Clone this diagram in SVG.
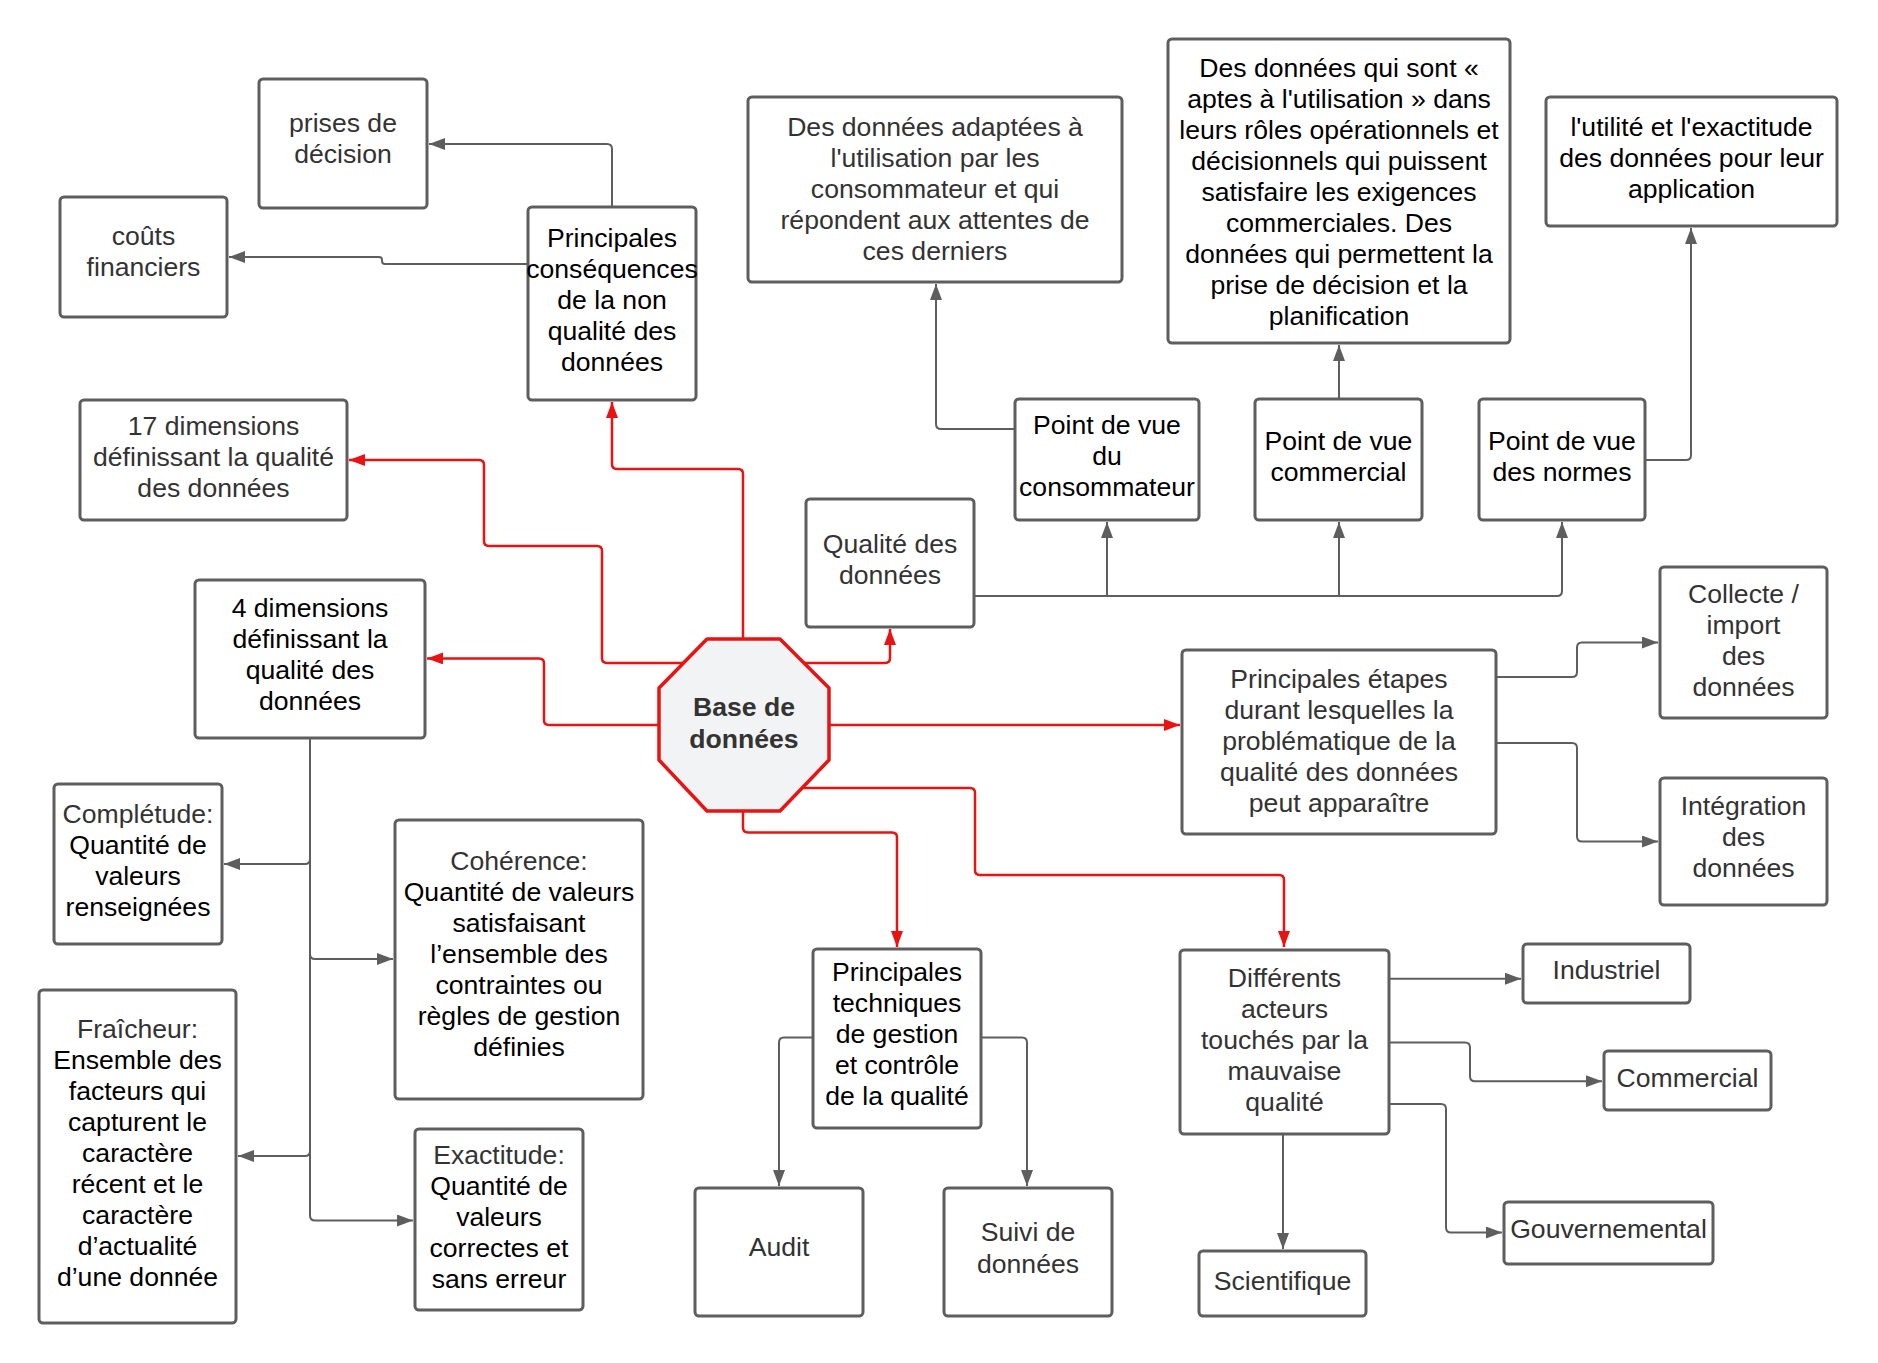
<svg xmlns="http://www.w3.org/2000/svg" width="1878" height="1363" viewBox="0 0 1878 1363">
  <style>
    .box { fill: #ffffff; stroke: #5e5e5e; stroke-width: 3; }
    .t { font-family: "Liberation Sans", Arial, sans-serif; font-size: 26.6px; text-anchor: middle; }
    .g { fill: #333333; }
    .k { fill: #000000; }
    .c { fill: none; stroke: #5e5e5e; stroke-width: 2; stroke-linejoin: round; }
    .r { fill: none; stroke: #e81313; stroke-width: 2.5; stroke-linejoin: round; }
    .hub { fill: #f2f3f5; stroke: #e81313; stroke-width: 3.5; stroke-linejoin: round; }
    .hubt { font-family: "Liberation Sans", Arial, sans-serif; font-size: 26.6px; font-weight: bold; text-anchor: middle; fill: #333333; }
  </style>
  <defs>
    <marker id="ag" markerUnits="userSpaceOnUse" viewBox="0 0 16 12" markerWidth="16" markerHeight="12" refX="16" refY="6" orient="auto">
      <path d="M0,0 L16,6 L0,12 z" fill="#5e5e5e"/>
    </marker>
    <marker id="ar" markerUnits="userSpaceOnUse" viewBox="0 0 16 12" markerWidth="16" markerHeight="12" refX="16" refY="6" orient="auto">
      <path d="M0,0 L16,6 L0,12 z" fill="#e81313"/>
    </marker>
  </defs>
  <rect width="1878" height="1363" fill="#ffffff"/>

  <!-- connectors -->
  <g id="connectors">
    <!-- grey links -->
    <path class="c" d="M612,207 V149 Q612,144 607,144 H429" marker-end="url(#ag)"/>
    <path class="c" d="M528,264 H385 Q382,264 382,261 V260 Q382,257 379,257 H229" marker-end="url(#ag)"/>
    <path class="c" d="M1015,429 H941 Q936,429 936,424 V284" marker-end="url(#ag)"/>
    <path class="c" d="M1339,399 V345" marker-end="url(#ag)"/>
    <path class="c" d="M1645,460 H1686 Q1691,460 1691,455 V228" marker-end="url(#ag)"/>
    <path class="c" d="M974,596 H1557 Q1562,596 1562,591 V522" marker-end="url(#ag)"/>
    <path class="c" d="M1107,596 V522" marker-end="url(#ag)"/>
    <path class="c" d="M1339,596 V522" marker-end="url(#ag)"/>
    <path class="c" d="M310,738 V1215.5 Q310,1220.5 315,1220.5 H413" marker-end="url(#ag)"/>
    <path class="c" d="M310,859 Q310,864 305,864 H224" marker-end="url(#ag)"/>
    <path class="c" d="M310,954 Q310,959 315,959 H393" marker-end="url(#ag)"/>
    <path class="c" d="M310,1151 Q310,1156 305,1156 H238" marker-end="url(#ag)"/>
    <path class="c" d="M813,1037.6 H784 Q779,1037.6 779,1042.6 V1186" marker-end="url(#ag)"/>
    <path class="c" d="M981,1037.6 H1022 Q1027,1037.6 1027,1042.6 V1186" marker-end="url(#ag)"/>
    <path class="c" d="M1496,677 H1572 Q1577,677 1577,672 V647.5 Q1577,642.5 1582,642.5 H1658" marker-end="url(#ag)"/>
    <path class="c" d="M1496,743 H1572 Q1577,743 1577,748 V836.5 Q1577,841.5 1582,841.5 H1658" marker-end="url(#ag)"/>
    <path class="c" d="M1389,978.7 H1521" marker-end="url(#ag)"/>
    <path class="c" d="M1389,1042.4 H1465 Q1470,1042.4 1470,1047.4 V1076.2 Q1470,1081.2 1475,1081.2 H1602" marker-end="url(#ag)"/>
    <path class="c" d="M1389,1104 H1441 Q1446,1104 1446,1109 V1227.5 Q1446,1232.5 1451,1232.5 H1502" marker-end="url(#ag)"/>
    <path class="c" d="M1283,1134 V1249" marker-end="url(#ag)"/>
    <!-- red links from the hub -->
    <path class="r" d="M743,639 V474 Q743,469 738,469 H617 Q612,469 612,464 V402" marker-end="url(#ar)"/>
    <path class="r" d="M684,663 H607 Q602,663 602,658 V551 Q602,546 597,546 H489 Q484,546 484,541 V465 Q484,460 479,460 H349" marker-end="url(#ar)"/>
    <path class="r" d="M804,663 H885 Q890,663 890,658 V629" marker-end="url(#ar)"/>
    <path class="r" d="M659,725 H549 Q544,725 544,720 V663.4 Q544,658.4 539,658.4 H427" marker-end="url(#ar)"/>
    <path class="r" d="M829,725 H1180" marker-end="url(#ar)"/>
    <path class="r" d="M801,788 H970 Q975,788 975,793 V870 Q975,875 980,875 H1279 Q1284,875 1284,880 V947" marker-end="url(#ar)"/>
    <path class="r" d="M743,811 V827.5 Q743,832.5 748,832.5 H892 Q897,832.5 897,837.5 V947" marker-end="url(#ar)"/>
  </g>

  <!-- hub -->
  <g id="base-de-donnees">
    <polygon class="hub" points="707,639 780,639 829,688 829,760 780,811 707,811 659,760 659,688"/>
    <text class="hubt" x="744" y="716">Base de</text>
    <text class="hubt" x="744" y="748">données</text>
  </g>

  <g id="prises-decision">
    <rect class="box" x="259" y="79" width="168" height="129" rx="4"/>
    <text class="t g" x="343" y="132">prises de</text>
    <text class="t g" x="343" y="163">décision</text>
  </g>

  <g id="couts-financiers">
    <rect class="box" x="60" y="197" width="167" height="120" rx="4"/>
    <text class="t g" x="143.5" y="245">coûts</text>
    <text class="t g" x="143.5" y="276">financiers</text>
  </g>

  <g id="consequences">
    <rect class="box" x="528" y="207" width="168" height="193" rx="4"/>
    <text class="t k" x="612" y="247">Principales</text>
    <text class="t k" x="612" y="278">conséquences</text>
    <text class="t k" x="612" y="309">de la non</text>
    <text class="t k" x="612" y="340">qualité des</text>
    <text class="t k" x="612" y="371">données</text>
  </g>

  <g id="dix-sept-dimensions">
    <rect class="box" x="80" y="400" width="267" height="120" rx="4"/>
    <text class="t g" x="213.5" y="435">17 dimensions</text>
    <text class="t g" x="213.5" y="466">définissant la qualité</text>
    <text class="t g" x="213.5" y="497">des données</text>
  </g>

  <g id="def-consommateur">
    <rect class="box" x="748" y="97" width="374" height="185" rx="4"/>
    <text class="t g" x="935" y="136">Des données adaptées à</text>
    <text class="t g" x="935" y="167">l'utilisation par les</text>
    <text class="t g" x="935" y="198">consommateur et qui</text>
    <text class="t g" x="935" y="229">répondent aux attentes de</text>
    <text class="t g" x="935" y="260">ces derniers</text>
  </g>

  <g id="def-commercial">
    <rect class="box" x="1168" y="39" width="342" height="304" rx="4"/>
    <text class="t k" x="1339" y="77">Des données qui sont «</text>
    <text class="t k" x="1339" y="108">aptes à l'utilisation » dans</text>
    <text class="t k" x="1339" y="139">leurs rôles opérationnels et</text>
    <text class="t k" x="1339" y="170">décisionnels qui puissent</text>
    <text class="t k" x="1339" y="201">satisfaire les exigences</text>
    <text class="t k" x="1339" y="232">commerciales. Des</text>
    <text class="t k" x="1339" y="263">données qui permettent la</text>
    <text class="t k" x="1339" y="294">prise de décision et la</text>
    <text class="t k" x="1339" y="325">planification</text>
  </g>

  <g id="def-normes">
    <rect class="box" x="1546" y="97" width="291" height="129" rx="4"/>
    <text class="t k" x="1691.5" y="136">l'utilité et l'exactitude</text>
    <text class="t k" x="1691.5" y="167">des données pour leur</text>
    <text class="t k" x="1691.5" y="198">application</text>
  </g>

  <g id="pdv-consommateur">
    <rect class="box" x="1015" y="399" width="184" height="121" rx="4"/>
    <text class="t k" x="1107" y="434">Point de vue</text>
    <text class="t k" x="1107" y="465">du</text>
    <text class="t k" x="1107" y="496">consommateur</text>
  </g>

  <g id="pdv-commercial">
    <rect class="box" x="1255" y="399" width="167" height="121" rx="4"/>
    <text class="t k" x="1338.5" y="450">Point de vue</text>
    <text class="t k" x="1338.5" y="481">commercial</text>
  </g>

  <g id="pdv-normes">
    <rect class="box" x="1479" y="399" width="166" height="121" rx="4"/>
    <text class="t k" x="1562" y="450">Point de vue</text>
    <text class="t k" x="1562" y="481">des normes</text>
  </g>

  <g id="qualite-donnees">
    <rect class="box" x="806" y="499" width="168" height="128" rx="4"/>
    <text class="t g" x="890" y="553">Qualité des</text>
    <text class="t g" x="890" y="584">données</text>
  </g>

  <g id="quatre-dimensions">
    <rect class="box" x="195" y="580" width="230" height="158" rx="4"/>
    <text class="t k" x="310" y="617">4 dimensions</text>
    <text class="t k" x="310" y="648">définissant la</text>
    <text class="t k" x="310" y="679">qualité des</text>
    <text class="t k" x="310" y="710">données</text>
  </g>

  <g id="completude">
    <rect class="box" x="54" y="784" width="168" height="160" rx="4"/>
    <text class="t g" x="138" y="823">Complétude:</text>
    <text class="t k" x="138" y="854">Quantité de</text>
    <text class="t k" x="138" y="885">valeurs</text>
    <text class="t k" x="138" y="916">renseignées</text>
  </g>

  <g id="coherence">
    <rect class="box" x="395" y="820" width="248" height="279" rx="4"/>
    <text class="t g" x="519" y="870">Cohérence:</text>
    <text class="t k" x="519" y="901">Quantité de valeurs</text>
    <text class="t k" x="519" y="932">satisfaisant</text>
    <text class="t k" x="519" y="963">l’ensemble des</text>
    <text class="t k" x="519" y="994">contraintes ou</text>
    <text class="t k" x="519" y="1025">règles de gestion</text>
    <text class="t k" x="519" y="1056">définies</text>
  </g>

  <g id="fraicheur">
    <rect class="box" x="39" y="990" width="197" height="333" rx="4"/>
    <text class="t g" x="137.5" y="1038">Fraîcheur:</text>
    <text class="t k" x="137.5" y="1069">Ensemble des</text>
    <text class="t k" x="137.5" y="1100">facteurs qui</text>
    <text class="t k" x="137.5" y="1131">capturent le</text>
    <text class="t k" x="137.5" y="1162">caractère</text>
    <text class="t k" x="137.5" y="1193">récent et le</text>
    <text class="t k" x="137.5" y="1224">caractère</text>
    <text class="t k" x="137.5" y="1255">d’actualité</text>
    <text class="t k" x="137.5" y="1286">d’une donnée</text>
  </g>

  <g id="exactitude">
    <rect class="box" x="415" y="1129" width="168" height="181" rx="4"/>
    <text class="t g" x="499" y="1164">Exactitude:</text>
    <text class="t k" x="499" y="1195">Quantité de</text>
    <text class="t k" x="499" y="1226">valeurs</text>
    <text class="t k" x="499" y="1257">correctes et</text>
    <text class="t k" x="499" y="1288">sans erreur</text>
  </g>

  <g id="techniques">
    <rect class="box" x="813" y="949" width="168" height="179" rx="4"/>
    <text class="t k" x="897" y="981">Principales</text>
    <text class="t k" x="897" y="1012">techniques</text>
    <text class="t k" x="897" y="1043">de gestion</text>
    <text class="t k" x="897" y="1074">et contrôle</text>
    <text class="t k" x="897" y="1105">de la qualité</text>
  </g>

  <g id="audit">
    <rect class="box" x="695" y="1188" width="168" height="128" rx="4"/>
    <text class="t g" x="779" y="1256">Audit</text>
  </g>

  <g id="suivi">
    <rect class="box" x="944" y="1188" width="168" height="128" rx="4"/>
    <text class="t g" x="1028" y="1241">Suivi de</text>
    <text class="t g" x="1028" y="1273">données</text>
  </g>

  <g id="etapes">
    <rect class="box" x="1182" y="650" width="314" height="184" rx="4"/>
    <text class="t g" x="1339" y="688">Principales étapes</text>
    <text class="t g" x="1339" y="719">durant lesquelles la</text>
    <text class="t g" x="1339" y="750">problématique de la</text>
    <text class="t g" x="1339" y="781">qualité des données</text>
    <text class="t g" x="1339" y="812">peut apparaître</text>
  </g>

  <g id="collecte">
    <rect class="box" x="1660" y="567" width="167" height="151" rx="4"/>
    <text class="t g" x="1743.5" y="603">Collecte /</text>
    <text class="t g" x="1743.5" y="634">import</text>
    <text class="t g" x="1743.5" y="665">des</text>
    <text class="t g" x="1743.5" y="696">données</text>
  </g>

  <g id="integration">
    <rect class="box" x="1660" y="778" width="167" height="127" rx="4"/>
    <text class="t g" x="1743.5" y="815">Intégration</text>
    <text class="t g" x="1743.5" y="846">des</text>
    <text class="t g" x="1743.5" y="877">données</text>
  </g>

  <g id="acteurs">
    <rect class="box" x="1180" y="950" width="209" height="184" rx="4"/>
    <text class="t g" x="1284.5" y="987">Différents</text>
    <text class="t g" x="1284.5" y="1018">acteurs</text>
    <text class="t g" x="1284.5" y="1049">touchés par la</text>
    <text class="t g" x="1284.5" y="1080">mauvaise</text>
    <text class="t g" x="1284.5" y="1111">qualité</text>
  </g>

  <g id="industriel">
    <rect class="box" x="1523" y="944" width="167" height="59" rx="4"/>
    <text class="t g" x="1606.5" y="979">Industriel</text>
  </g>

  <g id="commercial">
    <rect class="box" x="1604" y="1051" width="167" height="59" rx="4"/>
    <text class="t g" x="1687.5" y="1087">Commercial</text>
  </g>

  <g id="gouvernemental">
    <rect class="box" x="1504" y="1202" width="209" height="62" rx="4"/>
    <text class="t g" x="1608.5" y="1238">Gouvernemental</text>
  </g>

  <g id="scientifique">
    <rect class="box" x="1199" y="1251" width="167" height="65" rx="4"/>
    <text class="t g" x="1282.5" y="1290">Scientifique</text>
  </g>
</svg>
